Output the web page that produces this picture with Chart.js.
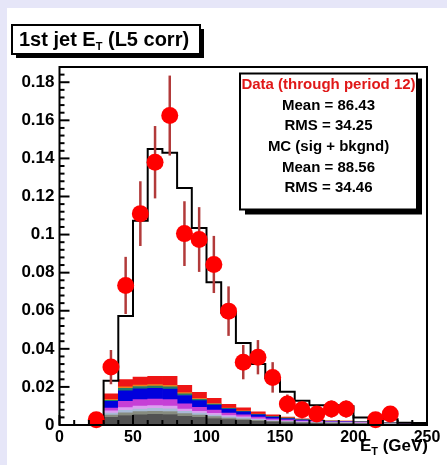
<!DOCTYPE html>
<html>
<head>
<meta charset="utf-8">
<script src="https://cdn.jsdelivr.net/npm/chart.js@4.4.1/dist/chart.umd.min.js"></script>
<style>
  html, body { margin: 0; padding: 0; background: #e6e6f8; }
  #panel { position: absolute; left: 7px; top: 8px; width: 440px; height: 457px; background: #fff; }
  canvas { display: block; }
</style>
</head>
<body>
<div id="panel"><canvas id="jetChart" width="440" height="457"></canvas></div>
<script>
// 10 GeV bins, MC background components (bottom of the stack first)
const binCenters = [35, 45, 55, 65, 75, 85, 95, 105, 115, 125, 135, 145, 155, 165, 175, 185, 195, 205, 215, 225, 235, 245];
const bkgDarkGray = [0.0040, 0.0050, 0.0054, 0.0056, 0.0055, 0.0046, 0.0040, 0.0034, 0.0028, 0.0024, 0.0019, 0.0015, 0.0012, 0.0010, 0.0009, 0.0008, 0.0007, 0.0006, 0.0005, 0.0004, 0.0003, 0.0002];
const bkgGray     = [0.0012, 0.0014, 0.0016, 0.0016, 0.0016, 0.0014, 0.0012, 0.0010, 0.0008, 0.0007, 0.0005, 0.0004, 0.0004, 0.0003, 0.0003, 0.0003, 0.0003, 0.0002, 0.0002, 0.0002, 0.0001, 0.0001];
const bkgSky      = [0.0011, 0.0013, 0.0014, 0.0015, 0.0014, 0.0012, 0.0010, 0.0008, 0.0007, 0.0006, 0.0004, 0.0003, 0.0003, 0.0002, 0.0002, 0.0002, 0.0002, 0.0002, 0.0001, 0.0001, 0.0001, 0.0001];
const bkgPink     = [0.0011, 0.0014, 0.0015, 0.0015, 0.0015, 0.0012, 0.0010, 0.0009, 0.0007, 0.0006, 0.0005, 0.0004, 0.0003, 0.0003, 0.0002, 0.0002, 0.0002, 0.0002, 0.0001, 0.0001, 0.0001, 0.0000];
const bkgMagenta  = [0.0015, 0.0033, 0.0034, 0.0034, 0.0033, 0.0027, 0.0021, 0.0017, 0.0013, 0.0010, 0.0008, 0.0006, 0.0005, 0.0004, 0.0003, 0.0002, 0.0002, 0.0002, 0.0001, 0.0001, 0.0001, 0.0001];
const bkgBlue     = [0.0035, 0.0056, 0.0057, 0.0056, 0.0055, 0.0044, 0.0035, 0.0027, 0.0020, 0.0016, 0.0012, 0.0009, 0.0006, 0.0004, 0.0003, 0.0002, 0.0002, 0.0001, 0.0001, 0.0001, 0.0000, 0.0000];
const bkgGreen    = [0.0006, 0.0012, 0.0012, 0.0012, 0.0012, 0.0009, 0.0007, 0.0005, 0.0004, 0.0003, 0.0003, 0.0003, 0.0003, 0.0002, 0.0002, 0.0001, 0.0001, 0.0001, 0.0001, 0.0001, 0.0001, 0.0000];
const bkgOrange   = [0.0004, 0.0008, 0.0008, 0.0008, 0.0008, 0.0006, 0.0004, 0.0003, 0.0002, 0.0002, 0.0001, 0.0001, 0.0001, 0.0001, 0.0001, 0.0001, 0.0001, 0.0000, 0.0000, 0.0000, 0.0000, 0.0000];
const bkgRed      = [0.0030, 0.0038, 0.0042, 0.0044, 0.0047, 0.0038, 0.0033, 0.0027, 0.0020, 0.0016, 0.0012, 0.0008, 0.0005, 0.0003, 0.0002, 0.0001, 0.0001, 0.0001, 0.0001, 0.0000, 0.0000, 0.0000];

// total MC (sig + bkgnd), one value per bin, bins start at these edges
const mcEdges = [30, 40, 50, 60, 70, 80, 90, 100, 110, 120, 130, 140, 150, 160, 170, 180, 190, 200, 210, 220, 230, 240];
const mcTotal = [0.0232, 0.0572, 0.1073, 0.1449, 0.1430, 0.1244, 0.1035, 0.0750, 0.0590, 0.0430, 0.0320, 0.0245, 0.0175, 0.0127, 0.0104, 0.0104, 0.0098, 0.0040, 0.0035, 0.0030, 0.0012, 0.0010];
const mcUpperEdge = 250;

// data points
const dataCenters = [25, 35, 45, 55, 65, 75, 85, 95, 105, 115, 125, 135, 145, 155, 165, 175, 185, 195, 215, 225];
const dataValues  = [0.0028, 0.0304, 0.0733, 0.1110, 0.1380, 0.1625, 0.1005, 0.0974, 0.0843, 0.0598, 0.0330, 0.0356, 0.0250, 0.0110, 0.0080, 0.0058, 0.0084, 0.0084, 0.0028, 0.0058];
const dataErrors  = [0.0020, 0.0090, 0.0150, 0.0170, 0.0190, 0.0210, 0.0170, 0.0170, 0.0150, 0.0130, 0.0090, 0.0090, 0.0080, 0.0050, 0.0045, 0.0040, 0.0045, 0.0045, 0.0028, 0.0040];

// axes
const xTickLabels = ['0', '50', '100', '150', '200', '250'];
const yTickLabels = ['0', '0.02', '0.04', '0.06', '0.08', '0.1', '0.12', '0.14', '0.16', '0.18'];

const statsLines = ['Data (through period 12)', 'Mean = 86.43', 'RMS = 34.25', 'MC (sig + bkgnd)', 'Mean = 88.56', 'RMS = 34.46'];

const FONT = "'Liberation Sans', Arial, Helvetica, sans-serif";

const bkgComponents = [
    { name: 'bkg 1', values: bkgDarkGray, color: '#525252' },
    { name: 'bkg 2', values: bkgGray, color: '#878c80' },
    { name: 'bkg 3', values: bkgSky, color: '#a9bad6' },
    { name: 'bkg 4', values: bkgPink, color: '#dc9ff0' },
    { name: 'bkg 5', values: bkgMagenta, color: '#c63fd6' },
    { name: 'bkg 6', values: bkgBlue, color: '#0000dd' },
    { name: 'bkg 7', values: bkgGreen, color: '#1f7f66' },
    { name: 'bkg 8', values: bkgOrange, color: '#ef7f1a' },
    { name: 'bkg 9', values: bkgRed, color: '#ee1515' }
];

const mcPoints = [{ x: mcEdges[0], y: 0 }]
    .concat(mcEdges.map((e, i) => ({ x: e, y: mcTotal[i] })))
    .concat([{ x: mcUpperEdge, y: mcTotal[mcTotal.length - 1] }]);

const dataPoints = dataCenters.map((x, i) => ({ x: x, y: dataValues[i] }));

// error bars under the markers
const errorBarPlugin = {
    id: 'errorBars',
    beforeDatasetDraw(chart, args) {
        if (args.index !== 0) return;
        const ctx = chart.ctx, xs = chart.scales.x, ys = chart.scales.y;
        ctx.save();
        ctx.strokeStyle = '#b23a3a';
        ctx.lineWidth = 2.5;
        dataCenters.forEach((x, i) => {
            const px = xs.getPixelForValue(x);
            ctx.beginPath();
            ctx.moveTo(px, ys.getPixelForValue(Math.max(0, dataValues[i] - dataErrors[i])));
            ctx.lineTo(px, ys.getPixelForValue(dataValues[i] + dataErrors[i]));
            ctx.stroke();
        });
        ctx.restore();
    }
};

// ROOT style frame, inward ticks, title box, stats box, axis title
const decorPlugin = {
    id: 'decor',
    afterDraw(chart) {
        const ctx = chart.ctx, a = chart.chartArea, xs = chart.scales.x, ys = chart.scales.y;
        ctx.save();
        ctx.strokeStyle = '#000';
        ctx.lineWidth = 2;
        ctx.strokeRect(a.left, a.top, a.right - a.left, a.bottom - a.top);

        // y ticks: major every label, 4 minor between
        for (let v = 0; v <= ys.max + 1e-9; v += 0.004) {
            const major = Math.abs(v / 0.02 - Math.round(v / 0.02)) < 1e-6;
            const py = ys.getPixelForValue(v);
            ctx.beginPath();
            ctx.moveTo(a.left, py);
            ctx.lineTo(a.left + (major ? 10 : 5), py);
            ctx.stroke();
        }
        // x ticks
        for (let v = 0; v <= xs.max; v += 10) {
            const major = v % 50 === 0;
            const px = xs.getPixelForValue(v);
            ctx.beginPath();
            ctx.moveTo(px, a.bottom);
            ctx.lineTo(px, a.bottom - (major ? 10 : 5));
            ctx.stroke();
        }

        // title box
        const tL = 5, tT = 17, tW = 188, tH = 29;
        ctx.fillStyle = '#000';
        ctx.fillRect(tL + 4, tT + 4, tW, tH);
        ctx.fillStyle = '#fff';
        ctx.fillRect(tL, tT, tW, tH);
        ctx.strokeRect(tL, tT, tW, tH);
        ctx.fillStyle = '#000';
        ctx.textBaseline = 'alphabetic';
        ctx.textAlign = 'left';
        let x = 12;
        ctx.font = 'bold 20px ' + FONT;
        ctx.fillText('1st jet E', x, 37.5);
        x += ctx.measureText('1st jet E').width;
        ctx.font = 'bold 11px ' + FONT;
        ctx.fillText('T', x, 41.5);
        x += ctx.measureText('T').width;
        ctx.font = 'bold 20px ' + FONT;
        ctx.fillText(' (L5 corr)', x, 37.5);

        // stats box
        const sL = 233, sT = 65.5, sW = 177, sH = 136;
        ctx.fillStyle = '#000';
        ctx.fillRect(sL + 5, sT + 5, sW, sH);
        ctx.fillStyle = '#fff';
        ctx.fillRect(sL, sT, sW, sH);
        ctx.strokeRect(sL, sT, sW, sH);
        ctx.font = 'bold 15px ' + FONT;
        ctx.textAlign = 'center';
        ctx.textBaseline = 'middle';
        statsLines.forEach((line, i) => {
            ctx.fillStyle = i === 0 ? '#e01818' : '#000';
            ctx.fillText(line, sL + sW / 2, 77 + i * 20.6);
        });

        // x axis title, right aligned at the end of the axis
        ctx.textBaseline = 'alphabetic';
        ctx.textAlign = 'left';
        ctx.fillStyle = '#000';
        ctx.font = 'bold 17px ' + FONT;
        const rest = ' (GeV)';
        const wRest = ctx.measureText(rest).width;
        const wE = ctx.measureText('E').width;
        ctx.font = 'bold 11px ' + FONT;
        const wT = ctx.measureText('T').width;
        let ax = a.right + 1 - wRest - wT - wE;
        ctx.font = 'bold 17px ' + FONT;
        ctx.fillText('E', ax, 443);
        ctx.font = 'bold 11px ' + FONT;
        ctx.fillText('T', ax + wE, 447);
        ctx.font = 'bold 17px ' + FONT;
        ctx.fillText(rest, ax + wE + wT, 443);
        ctx.restore();
    }
};

const ctx = document.getElementById('jetChart');
new Chart(ctx, {
    type: 'bar',
    data: {
        datasets: [
            {
                type: 'scatter',
                label: 'Data',
                data: dataPoints,
                order: 0,
                clip: false,
                pointRadius: 8.5,
                pointHoverRadius: 8.5,
                pointBackgroundColor: '#ff0000',
                pointBorderWidth: 0
            },
            {
                type: 'line',
                label: 'MC (sig + bkgnd)',
                data: mcPoints,
                order: 1,
                stepped: 'before',
                borderColor: '#000',
                borderWidth: 2,
                pointRadius: 0,
                fill: false
            }
        ].concat(bkgComponents.map(c => ({
            type: 'bar',
            label: c.name,
            data: binCenters.map((x, i) => ({ x: x, y: c.values[i] })),
            stack: 'bkg',
            order: 2,
            backgroundColor: c.color,
            borderWidth: 0,
            barPercentage: 1,
            categoryPercentage: 1
        })))
    },
    options: {
        responsive: false,
        animation: false,
        events: [],
        layout: { padding: { left: 0, right: 20, top: 59, bottom: 10 } },
        plugins: {
            legend: { display: false },
            tooltip: { enabled: false },
            title: { display: false }
        },
        scales: {
            x: {
                type: 'linear',
                offset: false,
                min: 0,
                max: 250,
                grid: { display: false, drawTicks: false, offset: false },
                border: { display: false },
                afterBuildTicks(scale) {
                    scale.ticks = xTickLabels.map(l => ({ value: parseFloat(l) }));
                },
                afterFit(scale) { scale.height = 30; },
                ticks: {
                    padding: 3,
                    maxRotation: 0,
                    autoSkip: false,
                    color: '#000',
                    font: { family: FONT, size: 16, weight: 'bold' },
                    callback: (v, i) => xTickLabels[i]
                }
            },
            y: {
                type: 'linear',
                min: 0,
                max: 0.188,
                grid: { display: false, drawTicks: false },
                border: { display: false },
                afterBuildTicks(scale) {
                    scale.ticks = yTickLabels.map(l => ({ value: parseFloat(l) }));
                },
                afterFit(scale) { scale.width = 52.5; },
                ticks: {
                    padding: 5,
                    autoSkip: false,
                    color: '#000',
                    font: { family: FONT, size: 17, weight: 'bold' },
                    callback: (v, i) => yTickLabels[i]
                }
            }
        }
    },
    plugins: [errorBarPlugin, decorPlugin]
});
</script>
</body>
</html>
